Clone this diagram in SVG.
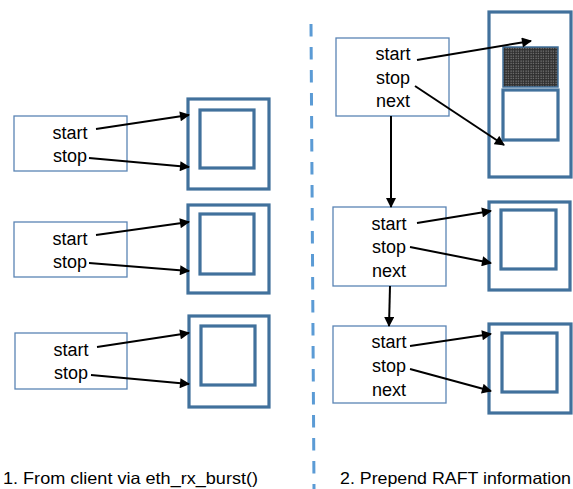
<svg xmlns="http://www.w3.org/2000/svg" width="573" height="489" viewBox="0 0 573 489">
<style>
.box{fill:#fff;stroke:#5a84b4;stroke-width:1.3}
.outer{fill:#fff;stroke:#41719c;stroke-width:3.2}
.inner{fill:#fff;stroke:#41719c;stroke-width:3.2}
.t{font-family:"Liberation Sans",Arial,sans-serif;font-size:18px;fill:#000;text-anchor:middle}
.cap{font-family:"Liberation Sans",Arial,sans-serif;font-size:16.5px;fill:#000}
.c line{stroke:#000;stroke-width:2;marker-end:url(#ah)}
</style>
<defs>
<marker id="ah" viewBox="0 0 10 10" refX="9" refY="5" markerWidth="5.5" markerHeight="5" orient="auto" markerUnits="strokeWidth">
<path d="M0,0 L10,5 L0,10 z" fill="#000"/>
</marker>
<pattern id="dots" width="2.5" height="2.5" patternUnits="userSpaceOnUse">
<rect width="2.5" height="2.5" fill="#2e2e2e"/>
<rect x="0.5" y="0.5" width="1.1" height="1.1" fill="#9a9a9a"/>
</pattern>
</defs>
<rect width="573" height="489" fill="#fff"/>
<line x1="311" y1="24" x2="314" y2="489" stroke="#5b9bd5" stroke-width="3" stroke-dasharray="12.5,10.5"/>

<g id="l1">
<rect class="box" x="14" y="116" width="113" height="55"/>
<text class="t" x="70" y="139">start</text>
<text class="t" x="70" y="162">stop</text>
</g>
<g id="b1">
<rect class="outer" x="188" y="99" width="81" height="90"/>
<rect class="inner" x="200" y="110" width="54" height="58"/>
</g>
<g id="l2">
<rect class="box" x="14" y="222" width="113" height="55"/>
<text class="t" x="70" y="245">start</text>
<text class="t" x="70" y="268">stop</text>
</g>
<g id="b2">
<rect class="outer" x="188" y="205" width="81" height="88"/>
<rect class="inner" x="200" y="214" width="54" height="60"/>
</g>
<g id="l3">
<rect class="box" x="15" y="333" width="112" height="56"/>
<text class="t" x="71" y="356">start</text>
<text class="t" x="71" y="379">stop</text>
</g>
<g id="b3">
<rect class="outer" x="189" y="316" width="80" height="91"/>
<rect class="inner" x="201" y="326" width="54" height="59"/>
</g>

<g id="r1">
<rect class="box" x="336" y="38" width="113" height="78"/>
<text class="t" x="393" y="60">start</text>
<text class="t" x="393" y="84">stop</text>
<text class="t" x="393" y="107">next</text>
</g>
<g id="rb1">
<rect class="outer" x="489" y="12" width="82" height="165"/>
<rect x="503" y="47" width="55" height="40" fill="url(#dots)" stroke="#41719c" stroke-width="1.5"/>
<rect class="inner" x="503" y="90" width="55" height="50"/>
</g>
<g id="r2">
<rect class="box" x="333" y="207" width="113" height="79"/>
<text class="t" x="389" y="230">start</text>
<text class="t" x="389" y="253">stop</text>
<text class="t" x="389" y="277">next</text>
</g>
<g id="rb2">
<rect class="outer" x="489" y="202" width="81" height="88"/>
<rect class="inner" x="501" y="210" width="55" height="59"/>
</g>
<g id="r3">
<rect class="box" x="333" y="326" width="113" height="77"/>
<text class="t" x="389" y="348">start</text>
<text class="t" x="389" y="372">stop</text>
<text class="t" x="389" y="396">next</text>
</g>
<g id="rb3">
<rect class="outer" x="489" y="324" width="82" height="89"/>
<rect class="inner" x="502" y="333" width="55" height="59"/>
</g>

<g class="c" id="connectors">
<line x1="96" y1="129" x2="189" y2="115"/>
<line x1="89" y1="158" x2="189" y2="167"/>
<line x1="96" y1="235" x2="189" y2="222"/>
<line x1="89" y1="263" x2="189" y2="271"/>
<line x1="97" y1="347" x2="189" y2="333"/>
<line x1="91" y1="375" x2="189" y2="384"/>
<line x1="417" y1="60" x2="531" y2="41"/>
<line x1="415" y1="86" x2="504" y2="145"/>
<line x1="391" y1="116" x2="391" y2="207"/>
<line x1="417" y1="223" x2="491" y2="211"/>
<line x1="410" y1="247" x2="491" y2="263"/>
<line x1="390" y1="286" x2="389" y2="326"/>
<line x1="410" y1="346" x2="491" y2="334"/>
<line x1="410" y1="369" x2="491" y2="391"/>
</g>

<text class="cap" x="3" y="484" textLength="255" lengthAdjust="spacingAndGlyphs">1. From client via eth_rx_burst()</text>
<text class="cap" x="340" y="484" textLength="231" lengthAdjust="spacingAndGlyphs">2. Prepend RAFT information</text>
</svg>
